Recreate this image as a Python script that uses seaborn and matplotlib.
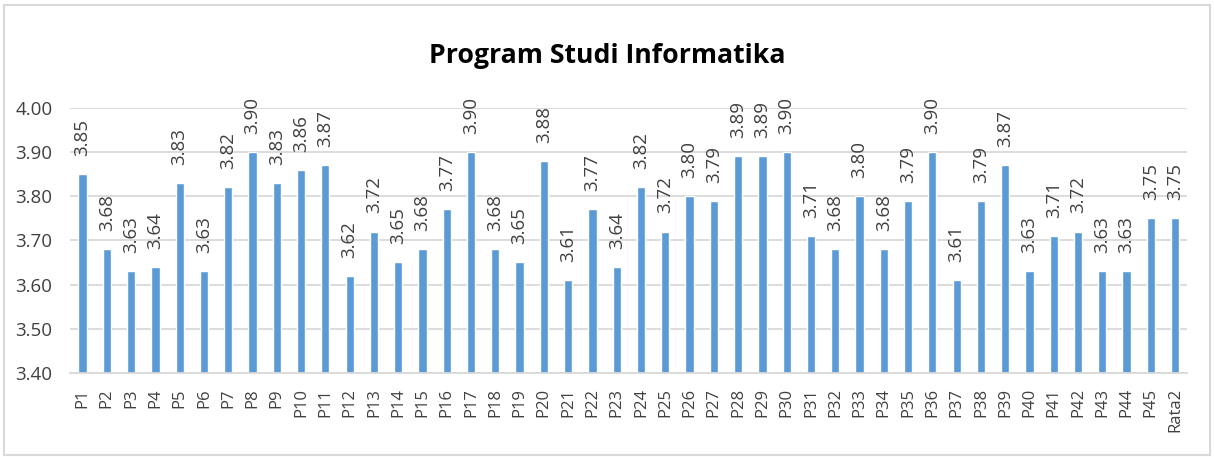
import matplotlib
matplotlib.use("Agg")
import matplotlib.pyplot as plt
import seaborn as sns
import pandas as pd

categories = [f"P{i}" for i in range(1, 46)] + ["Rata2"]
values = [3.85, 3.68, 3.63, 3.64, 3.83, 3.63, 3.82, 3.90, 3.83, 3.86,
          3.87, 3.62, 3.72, 3.65, 3.68, 3.77, 3.90, 3.68, 3.65, 3.88,
          3.61, 3.77, 3.64, 3.82, 3.72, 3.80, 3.79, 3.89, 3.89, 3.90,
          3.71, 3.68, 3.80, 3.68, 3.79, 3.90, 3.61, 3.79, 3.87, 3.63,
          3.71, 3.72, 3.63, 3.63, 3.75, 3.75]
y_ticks = [3.40, 3.50, 3.60, 3.70, 3.80, 3.90, 4.00]

df = pd.DataFrame({"kode": categories, "nilai": values})

sns.set_style("white")
plt.rcParams["font.family"] = ["Open Sans", "DejaVu Sans"]

fig = plt.figure(figsize=(12.14, 4.57), dpi=100)
ax = fig.add_axes([0.058, 0.184, 0.92, 0.58])

sns.barplot(data=df, x="kode", y="nilai", color="#5B9BD5", width=0.34,
            saturation=1, ax=ax)

ax.set_ylim(3.40, 4.00)
ax.set_yticks(y_ticks)
ax.set_yticklabels([f"{t:.2f}" for t in y_ticks], fontsize=13.5, color="#404040")
ax.set_xlim(-0.5, len(categories) - 0.5)
ax.tick_params(axis="x", rotation=90, labelsize=12, colors="#404040", length=0, pad=11)
ax.tick_params(axis="y", length=0, pad=13)
ax.yaxis.grid(True, color="#D9D9D9", linewidth=1.3)
ax.set_axisbelow(True)
for s in ["top", "right", "left"]:
    ax.spines[s].set_visible(False)
ax.spines["bottom"].set_color("#D9D9D9")
ax.spines["bottom"].set_linewidth(1.3)
ax.set_xlabel("")
ax.set_ylabel("")

# label nilai di atas batang
for i, v in enumerate(values):
    ax.annotate(f"{v:.2f}", (i, v), xytext=(0, 13), textcoords="offset points",
                rotation=90, ha="center", va="bottom", fontsize=13.5,
                color="#404040", annotation_clip=False)

fig.text(0.5, 0.862, "Program Studi Informatika", ha="center", va="baseline",
         fontsize=19.2, fontweight="bold", color="black")

# bingkai luar
border = plt.Rectangle((0.0033, 0.0044), 0.9934, 0.985, transform=fig.transFigure,
                       fill=False, edgecolor="#D9D9D9", linewidth=1.5)
fig.patches.append(border)

fig.savefig("out.png", dpi=100)
